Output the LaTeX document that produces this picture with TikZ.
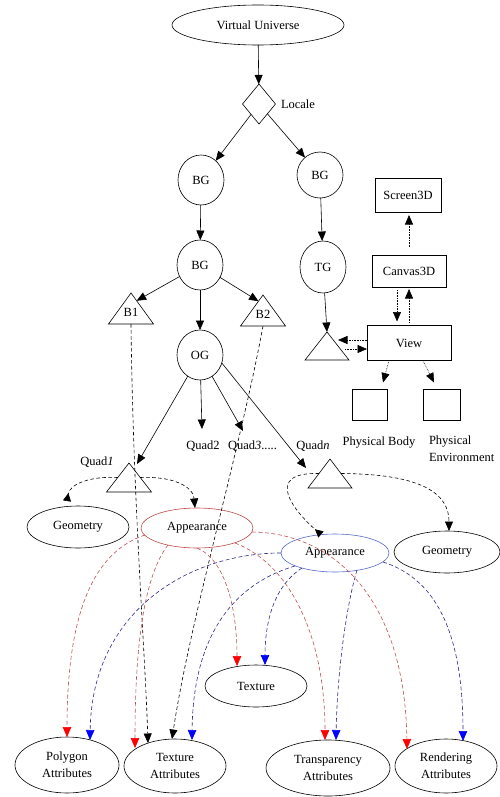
\documentclass[tikz,border=0pt]{standalone}
\usepackage{fontspec}
\setmainfont{Liberation Serif}
\usetikzlibrary{arrows.meta,shapes.geometric,calc}
\definecolor{lred}{HTML}{C05050}
\definecolor{lblue}{HTML}{2A2A8A}
\definecolor{appred}{HTML}{C04848}
\definecolor{appblue}{HTML}{5868C8}
\begin{document}
\begin{tikzpicture}[x=1pt,y=-1pt, line width=0.6pt,
  every node/.style={font=\fontsize{12.5}{17}\selectfont, inner sep=0pt, outer sep=0pt},
  circ/.style={ellipse, draw, minimum width=46pt, minimum height=50pt},
  oval/.style={ellipse, draw},
  box/.style={rectangle, draw},
  tri/.style={minimum width=45pt, minimum height=30pt, text height=15pt, text depth=0pt},
  arr/.style={-{Triangle[length=9.5pt,width=8pt]}},
  revarr/.style={dash pattern=on 3.5pt off 2.5pt, -{Triangle[reversed,length=8pt,width=8pt]}},
  dotarr/.style={arr, densely dotted},
  dasharr/.style={arr, dash pattern=on 3.5pt off 2.5pt},
  redarr/.style={draw=lred, dash pattern=on 4pt off 2.5pt, -{Triangle[length=10pt,width=8.5pt,color=red]}},
  bluearr/.style={draw=lblue, dash pattern=on 4pt off 2.5pt, -{Triangle[length=10pt,width=8.5pt,color=blue]}}
]
\useasboundingbox (0,0) rectangle (500,797);

% top part
\node[oval, minimum width=172pt, minimum height=40pt] (vu) at (258,25) {Virtual Universe};
\node[diamond, draw, minimum width=33pt, minimum height=40pt] (loc) at (259,104) {};
\node (loclbl) at (298,104) {Locale};
\node[circ] (bg1) at (201,180) {BG};
\node[circ, minimum height=46pt] (bgr) at (320,175) {BG};
\node[circ] (bg2) at (200,265) {BG};
\node[circ] (og) at (200,355) {OG};
\node[circ, minimum height=52pt] (tg) at (323,267) {TG};
\node[tri, minimum height=31pt] (b1) at (131,308.5) {B1};
\node[tri, minimum height=31pt] (b2) at (263,310.5) {B2};
\node[tri, minimum width=44pt, minimum height=28pt] (tv) at (327,346) {};
\node[tri, minimum height=29pt] (q1) at (129,477.5) {};
\node[tri, minimum width=44pt, minimum height=29pt] (qn) at (330,473.5) {};
\foreach \t in {b1,b2,tv,q1,qn}
  \draw (\t.north) -- (\t.south east) -- (\t.south west) -- cycle;

% view side
\node[box, minimum width=66pt, minimum height=34pt] (s3d) at (408,195) {Screen3D};
\node[box, minimum width=74pt, minimum height=32pt] (c3d) at (409,271) {Canvas3D};
\node[box, minimum width=84pt, minimum height=35pt] (view) at (409,343) {View};
\node[box, minimum width=35pt, minimum height=31pt] (pb) at (370,405) {};
\node[box, minimum width=37pt, minimum height=31pt] (pe) at (442,405) {};
\node (pblbl) at (379,443) {Physical Body};
\node[align=left, anchor=north west] (pelbl) at (429,436) {Physical\\Environment};

% quad labels
\node (q1lbl) at (97,462) {Quad\textit{1}};
\node (q2lbl) at (203,446) {Quad2};
\node[anchor=west] (q3lbl) at (228,446) {Quad\textit{3}.....};
\node (qnlbl) at (313,446) {Quad\textit{n}};
\coordinate (q1tip) at (137,464);
\coordinate (q2tip) at (202,429);
\coordinate (q3tip) at (243,431);
\coordinate (qntip) at (306,468);

% lower ellipses
\node[oval, minimum width=102pt, minimum height=42pt] (geo1) at (78,527) {Geometry};
\node[oval, draw=appred, minimum width=112pt, minimum height=40pt] (app1) at (197,528) {Appearance};
\node[oval, draw=appblue, minimum width=108pt, minimum height=38pt] (app2) at (335,553) {Appearance};
\node[oval, minimum width=106pt, minimum height=42pt] (geo2) at (447,552) {Geometry};
\node[oval, minimum width=102pt, minimum height=42pt] (tex) at (256,686) {Texture};
\node[oval, align=center, minimum width=104pt, minimum height=56pt] (poly) at (67,765) {Polygon\\Attributes};
\node[oval, align=center, minimum width=102pt, minimum height=54pt] (tatt) at (175,766) {Texture\\Attributes};
\node[oval, align=center, minimum width=124pt, minimum height=56pt] (trans) at (328,768) {Transparency\\Attributes};
\node[oval, align=center, minimum width=102pt, minimum height=54pt] (rend) at (446,766) {Rendering\\Attributes};

% solid arrows
\draw[arr] (vu) -- (loc);
\draw[arr] (loc) -- (bg1);
\draw[arr] (loc) -- (bgr);
\draw[arr] (bg1) -- (bg2);
\draw[arr] (bg2) -- ($(b1.north)!0.25!(b1.south east)$);
\draw[arr] (bg2) -- ($(b2.north)!0.2!(b2.south west)$);
\draw[arr] (bg2) -- (og);
\draw[arr] (bgr) -- (tg);
\draw[arr] (tg) -- (tv.north);
\draw[arr] (og) -- (q1tip);
\draw[arr] (og) -- (q2tip);
\draw[arr] (og) -- (q3tip);
\draw[arr] (og.-20) -- (qntip);

% dotted view arrows
\draw[dotarr, shorten <=8pt, shorten >=3pt] (c3d.north) -- (c3d.north |- s3d.south);
\draw[dotarr, shorten <=3pt, shorten >=4pt] ([xshift=-12pt]c3d.south) -- ([xshift=-12pt]view.north);
\draw[dotarr, shorten <=3pt, shorten >=2pt] (view.north) -- (c3d.south);
\draw[dotarr] ([yshift=3pt]view.west) -- ([xshift=11pt,yshift=6pt]tv.center);
\draw[dotarr] ([xshift=18pt,yshift=-3pt]tv.center) -- ([yshift=-6pt]view.west);
\draw[dotarr] ([xshift=-20pt]view.south) -- ([xshift=13pt,yshift=7pt]pb.north);
\draw[dotarr] ([xshift=14pt]view.south) -- ([xshift=-8pt,yshift=7pt]pe.north);

% quad arcs
\draw[revarr] ($(q1.north)!0.5!(q1.south west)$) .. controls (90,476) and (70,484) .. ($(geo1.north)+(-11,-5)$);
\draw[dasharr] ($(q1.north)!0.5!(q1.south east)$) .. controls (172,476) and (193,486) .. ([xshift=-2pt]app1.north);
\draw[revarr] ($(qn.north)!0.5!(qn.south west)$) .. controls (262,472) and (295,512) .. ($(app2)+(-14,-18.5)$);
\draw[dasharr] ($(qn.north)!0.5!(qn.south east)$) .. controls (425,474) and (449,495) .. ([xshift=2pt]geo2.north);

% black dashed to texture attributes
\draw[dasharr] (b1.south) .. controls (133,500) and (145,650) .. ($(tatt)+(-27,-23)$);
\draw[dasharr] (b2.south) .. controls (240,450) and (190,620) .. ($(tatt)+(-3,-27)$);

% red curves
\draw[redarr] ($(app1)+(-52,7)$) .. controls (100,550) and (67,600) .. ($(poly)+(0,-28)$);
\draw[redarr] ($(app1)+(-29,17)$) .. controls (145,575) and (135,640) .. ($(tatt)+(-40,-18)$);
\draw[redarr] ($(app1)+(0,20)$) .. controls (226,560) and (237,610) .. ($(tex)+(-19,-20)$);
\draw[redarr] ($(app1)+(38,15)$) .. controls (292,565) and (325,640) .. ($(trans)+(-3,-28)$);
\draw[redarr] ($(app1)+(55,4)$) .. controls (335,533) and (405,600) .. ($(rend)+(-39,-17)$);

% blue curves
\draw[bluearr] (app2.west) .. controls (190,553) and (92,610) .. ($(poly)+(23,-25)$);
\draw[bluearr] ($(app2)+(-40,13)$) .. controls (230,585) and (193,640) .. ($(tatt)+(17,-26)$);
\draw[bluearr] ($(app2)+(-33,15)$) .. controls (275,585) and (265,620) .. ($(tex)+(9,-21)$);
\draw[bluearr] ($(app2)+(22,17)$) .. controls (345,610) and (337,680) .. ($(trans)+(8,-28)$);
\draw[bluearr] ($(app2)+(48,9)$) .. controls (440,580) and (463,640) .. ($(rend)+(17,-25)$);
\end{tikzpicture}
\end{document}
